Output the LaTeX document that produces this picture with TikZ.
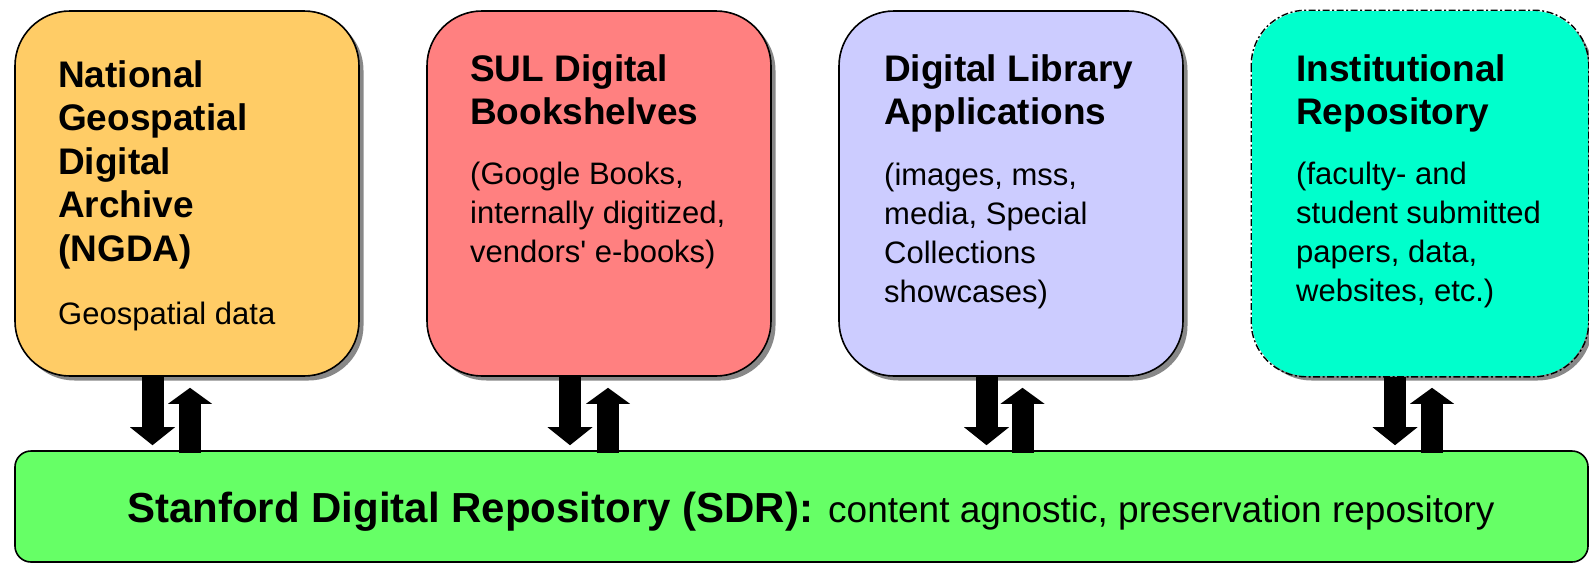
\documentclass[tikz,border=0pt]{standalone}
\usepackage{fontspec}
\setmainfont{Liberation Sans}
\usetikzlibrary{shadows,arrows.meta}
\definecolor{cOrange}{HTML}{FFCC66}
\definecolor{cRed}{HTML}{FF8080}
\definecolor{cLilac}{HTML}{CCCCFF}
\definecolor{cTeal}{HTML}{00FFCC}
\definecolor{cGreen}{HTML}{66FF66}
\definecolor{cShadow}{HTML}{888888}
\newcommand\linestack[1]{\vtop{\halign{##\hfil\cr#1\crcr}}}
\tikzset{
  topbox/.style={draw=black, line width=1.6pt, rounded corners=55pt,
    minimum width=344pt, minimum height=365pt, inner sep=0pt,
    drop shadow={shadow xshift=4.5pt, shadow yshift=-4.5pt, fill=cShadow, opacity=1}},
  sdrbox/.style={draw=black, line width=1.6pt, rounded corners=16pt, fill=cGreen,
    minimum width=1573pt, minimum height=111pt, inner sep=0pt},
  titletext/.style={anchor=base west, inner sep=0pt, font=\fontsize{37}{43.5}\selectfont\bfseries},
  subtext/.style={anchor=base west, inner sep=0pt, font=\fontsize{31}{39}\selectfont},
  downarrow/.style={line width=22pt, shorten >=5pt,
    -{Triangle[width=45pt,length=18pt,line width=0pt]}},
  uparrow/.style={line width=22pt, shorten <=-3pt, shorten >=11pt,
    -{Triangle[width=44pt,length=16pt,line width=0pt]}},
}
\begin{document}
\begin{tikzpicture}[x=1pt,y=-1pt]
\useasboundingbox (0,0) rectangle (1589,563);

% top boxes
\node[topbox, fill=cOrange] (b1) at (187,193.5) {};
\node[topbox, fill=cRed] (b2) at (599,193.5) {};
\node[topbox, fill=cLilac] (b3) at (1011,193.5) {};
\node[topbox, fill=cTeal, draw=none, minimum width=336pt] (b4) at (1420,193.5) {};
\draw[line width=1.4pt, rounded corners=55pt, dash pattern=on 7pt off 2.5pt on 2pt off 2.5pt]
  (b4.north west) rectangle (b4.south east);

% bottom repository
\node[sdrbox] (sdr) at (801.5,506.5) {};

% texts
\node[titletext] (t1) at (58,87) {\linestack{National\cr Geospatial\cr Digital\cr Archive\cr (NGDA)}};
\node[subtext] (s1) at (58,324) {Geospatial data};

\node[titletext] (t2) at (470,81) {\linestack{SUL Digital\cr Bookshelves}};
\node[subtext] (s2) at (470,184) {\linestack{(Google Books,\cr internally digitized,\cr vendors\textquotesingle\ e-books)}};

\node[titletext] (t3) at (884,81) {\linestack{Digital Library\cr Applications}};
\node[subtext] (s3) at (884,185) {\linestack{(images, mss,\cr media, Special\cr Collections\cr showcases)}};

\node[titletext] (t4) at (1296,81) {\linestack{Institutional\cr Repository}};
\node[subtext] (s4) at (1296,184) {\linestack{(faculty- and\cr student submitted\cr papers, data,\cr websites, etc.)}};

\node[anchor=base west, inner sep=0pt] (sdrtext) at (127,522)
  {{\fontsize{42}{50}\selectfont\bfseries Stanford Digital Repository (SDR):}\hspace{15pt}{\fontsize{37}{44}\selectfont content agnostic, preservation repository}};

% arrow x positions
\coordinate (d1) at (152.5,0); \coordinate (u1) at (190,0);
\coordinate (d2) at (570,0);   \coordinate (u2) at (608,0);
\coordinate (d3) at (986.5,0); \coordinate (u3) at (1022.5,0);
\coordinate (d4) at (1395,0);  \coordinate (u4) at (1432,0);

\foreach \i in {1,2,3,4}{
  \draw[downarrow] (b\i.south -| d\i) -- (sdr.north -| d\i);
  \draw[uparrow] (sdr.north -| u\i) -- (b\i.south -| u\i);
}
\end{tikzpicture}
\end{document}
